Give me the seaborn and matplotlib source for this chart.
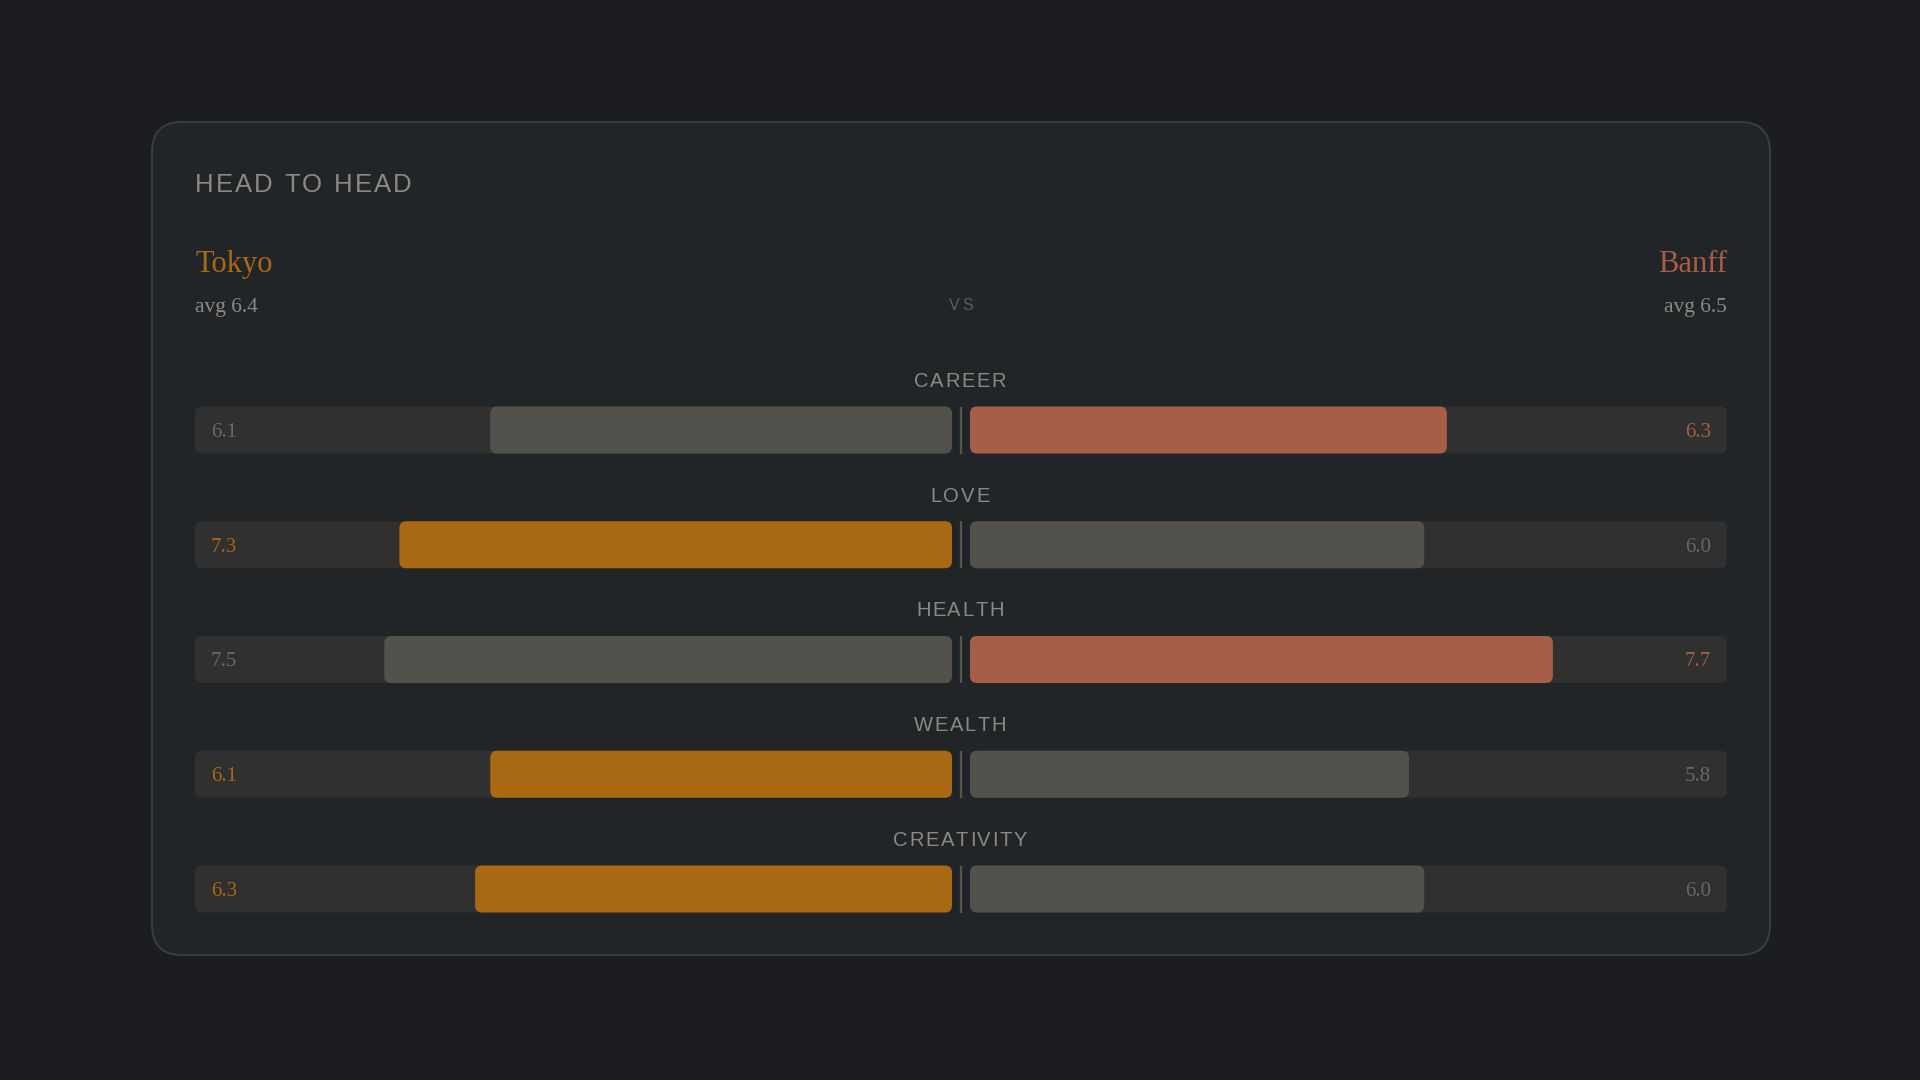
import matplotlib
matplotlib.use("Agg")
import matplotlib.pyplot as plt
import matplotlib.transforms as mtransforms
from matplotlib.patches import FancyBboxPatch
import seaborn as sns
import pandas as pd

# ---- data ----
categories = ["CAREER", "LOVE", "HEALTH", "WEALTH", "CREATIVITY"]
tokyo = [6.1, 7.3, 7.5, 6.1, 6.3]
banff = [6.3, 6.0, 7.7, 5.8, 6.0]
left_name, right_name = "Tokyo", "Banff"
left_avg, right_avg = 6.4, 6.5
title = "HEAD TO HEAD"
max_score = 10

# ---- style ----
BG = "#1b1d20"
CARD = "#222528"
CARD_EDGE = "#3b3e42"
TRACK = "#2f302f"
LOSER = "#52514c"
ORANGE = "#a86912"
TERRA = "#a65e46"
TXT = "#8c8882"
MUTED = "#6a6864"
SERIF = ["Liberation Serif", "DejaVu Serif"]
SANS = ["Liberation Sans", "DejaVu Sans"]

sns.set_theme(style="white")
plt.rcParams["font.family"] = SANS

W, H = 1920, 1080
fig = plt.figure(figsize=(W / 100, H / 100), dpi=100, facecolor=BG)
renderer = fig.canvas.get_renderer()

def fx(px):
    return px / W

def fy(py):
    return 1 - py / H

def spaced_text(x_px, y_px, s, tracking_px, ha="left", **kw):
    """Draw letter-spaced text in figure pixel coords (y from top)."""
    widths = []
    for ch in s:
        t = fig.text(0, 0, ch if ch != " " else "n", **kw)
        bb = t.get_window_extent(renderer)
        widths.append(bb.width if ch != " " else bb.width * 0.55)
        t.remove()
    total = sum(widths) + tracking_px * (len(s) - 1)
    start = x_px if ha == "left" else (x_px - total / 2 if ha == "center" else x_px - total)
    cur = start
    for ch, w in zip(s, widths):
        if ch != " ":
            fig.text(fx(cur), fy(y_px), ch, ha="left", va="baseline", **kw)
        cur += w + tracking_px

# card
card = FancyBboxPatch((fx(152), fy(955)), fx(1770 - 152), (955 - 122) / H,
                      boxstyle="round,pad=0,rounding_size=0.0156",
                      mutation_aspect=W / H,
                      transform=fig.transFigure, facecolor=CARD,
                      edgecolor=CARD_EDGE, linewidth=1.3, zorder=-10)
fig.patches.append(card)

# header texts (baselines in px from top)
spaced_text(195, 192, title, 2.0, color=TXT, fontsize=18.5)
fig.text(fx(195), fy(272), left_name, color=ORANGE, fontsize=22, va="baseline",
         ha="left", family=SERIF)
fig.text(fx(1727), fy(272), right_name, color=TERRA, fontsize=22, va="baseline",
         ha="right", family=SERIF)
fig.text(fx(195), fy(312), f"avg {left_avg}", color=TXT, fontsize=15.5, va="baseline",
         ha="left", family=SERIF)
fig.text(fx(1727), fy(312), f"avg {right_avg}", color=TXT, fontsize=15.5, va="baseline",
         ha="right", family=SERIF)
spaced_text(961, 310, "VS", 3, ha="center", color="#5c5c5a", fontsize=11.5)

# axes geometry
row_px = 114.75
top_px = 430 - row_px / 2
n = len(categories)
ax_h = row_px * n
half_w = 757
axL = fig.add_axes([fx(195), fy(top_px + ax_h), half_w / W, ax_h / H])
axR = fig.add_axes([fx(970), fy(top_px + ax_h), half_w / W, ax_h / H])

df = pd.DataFrame({"category": categories, "tokyo": tokyo, "banff": banff,
                   "track": [max_score] * n})

bar_frac = 47 / row_px
for ax, col, win_color, invert in [(axL, "tokyo", ORANGE, True),
                                   (axR, "banff", TERRA, False)]:
    other = "banff" if col == "tokyo" else "tokyo"
    colors = [win_color if df[col][i] > df[other][i] else LOSER for i in range(n)]
    sns.barplot(data=df, x="track", y="category", orient="h", ax=ax,
                color=TRACK, width=bar_frac, saturation=1)
    sns.barplot(data=df, x=col, y="category", orient="h", ax=ax,
                hue="category", palette=colors, legend=False,
                width=bar_frac, saturation=1)
    if invert:
        ax.set_xlim(max_score, 0)
    else:
        ax.set_xlim(0, max_score)
    ax.set_ylim(n - 0.5, -0.5)
    ax.axis("off")

# turn bars into rounded rectangles
x_per_px = max_score / half_w
y_per_px = 1 / row_px
r_px = 7
for ax in (axL, axR):
    for p in list(ax.patches):
        x0, y0, w, h = p.get_x(), p.get_y(), p.get_width(), p.get_height()
        rb = FancyBboxPatch((x0, y0), w, h,
                            boxstyle=f"round,pad=0,rounding_size={r_px * x_per_px}",
                            mutation_aspect=y_per_px / x_per_px,
                            facecolor=p.get_facecolor(), edgecolor="none",
                            zorder=p.get_zorder())
        p.remove()
        ax.add_patch(rb)

# value labels
lab_off = 16 * x_per_px
base_off = 7 * y_per_px
for i in range(n):
    lc = ORANGE if tokyo[i] > banff[i] else MUTED
    rc = TERRA if banff[i] > tokyo[i] else MUTED
    axL.text(max_score - lab_off, i + base_off, f"{tokyo[i]:.1f}", color=lc,
             fontsize=15, va="baseline", ha="left", family=SERIF, zorder=5)
    axR.text(max_score - lab_off, i + base_off, f"{banff[i]:.1f}", color=rc,
             fontsize=15, va="baseline", ha="right", family=SERIF, zorder=5)

# category labels and centre dividers
blend = mtransforms.blended_transform_factory(fig.transFigure, axL.transData)
for i, c in enumerate(categories):
    base_px = 430 + i * row_px - 43
    spaced_text(960, base_px, c, 1.7, ha="center", color=TXT, fontsize=14.5)
    axL.plot([fx(960.5), fx(960.5)], [i - bar_frac / 2, i + bar_frac / 2],
             transform=blend, color="#55554f", linewidth=1.6, clip_on=False,
             solid_capstyle="butt")

fig.savefig("out.png", dpi=100, facecolor=BG)
